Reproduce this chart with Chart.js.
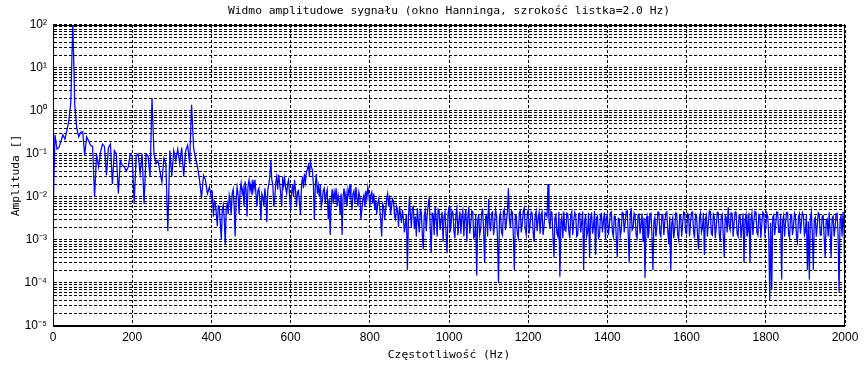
<!DOCTYPE html>
<html>
<head>
<meta charset="utf-8">
<title>Widmo amplitudowe</title>
<script src="https://cdn.jsdelivr.net/npm/chart.js@4/dist/chart.umd.min.js"></script>
<style>
  html, body { margin: 0; padding: 0; background: #fff; }
  #wrap { width: 866px; height: 367px; }
</style>
</head>
<body>
<div id="wrap"><canvas id="spectrum" width="866" height="367"></canvas></div>
<script>
const TITLE = "Widmo amplitudowe sygnału (okno Hanninga, szrokość listka=2.0 Hz)";
const X_LABEL = "Częstotliwość (Hz)";
const Y_LABEL = "Amplituda []";

const X_TICKS = [0, 200, 400, 600, 800, 1000, 1200, 1400, 1600, 1800, 2000];
const Y_DECADES = [-5, -4, -3, -2, -1, 0, 1, 2];

// 0 .. 395 Hz, one value every 5 Hz, one row per 100 Hz
const ampLowRows = [
  [3e-3, 0.28, 0.13, 0.14, 0.2, 0.28, 0.22, 0.35, 0.6, 1.6, 120, 1.4, 0.4, 0.25, 0.32, 0.33, 0.095, 0.25, 0.2, 0.16],
  [0.15, 0.01, 0.1, 0.05, 0.11, 0.17, 0.15, 0.032, 0.14, 0.17, 0.02, 0.12, 0.1, 0.012, 0.07, 0.055, 0.05, 0.04, 0.05, 0.1],
  [0.09, 0.007, 0.09, 0.1, 0.035, 0.1, 0.007, 0.1, 0.09, 0.03, 2.0, 0.1, 0.06, 0.07, 0.04, 0.022, 0.08, 0.06, 0.0016, 0.12],
  [0.03, 0.12, 0.07, 0.13, 0.06, 0.14, 0.03, 0.12, 0.16, 0.06, 1.4, 0.14, 0.08, 0.05, 0.025, 0.0095, 0.032, 0.025, 0.012, 0.017]
];

// 400 .. 897.5 Hz, one value every 2.5 Hz, one row per 100 Hz
const ampMidRows = [
  [0.0095, 0.012, 0.0035, 0.008, 0.0073, 0.004, 0.0021, 0.0062, 0.006, 0.0025, 0.001, 0.005, 0.0065, 0.003, 0.00077, 0.0055, 0.007, 0.004, 0.011, 0.008,
   0.004, 0.012, 0.015, 0.006, 0.0012, 0.009, 0.017, 0.011, 0.004, 0.014, 0.021, 0.012, 0.016, 0.006, 0.023, 0.015, 0.0035, 0.018, 0.025, 0.014],
  [0.02, 0.011, 0.025, 0.015, 0.025, 0.012, 0.006, 0.014, 0.016, 0.008, 0.003, 0.012, 0.01, 0.006, 0.016, 0.009, 0.0026, 0.015, 0.02, 0.03,
   0.07, 0.025, 0.02, 0.006, 0.009, 0.022, 0.03, 0.015, 0.033, 0.02, 0.012, 0.006, 0.03, 0.018, 0.027, 0.016, 0.012, 0.02, 0.025, 0.01],
  [0.005, 0.012, 0.02, 0.01, 0.025, 0.014, 0.006, 0.013, 0.014, 0.007, 0.004, 0.018, 0.03, 0.016, 0.035, 0.022, 0.038, 0.045, 0.055, 0.03,
   0.065, 0.05, 0.042, 0.02, 0.003, 0.02, 0.034, 0.012, 0.018, 0.01, 0.02, 0.006, 0.008, 0.014, 0.016, 0.007, 0.012, 0.015, 0.003, 0.009],
  [0.0013, 0.008, 0.015, 0.007, 0.013, 0.009, 0.016, 0.006, 0.011, 0.008, 0.004, 0.012, 0.0013, 0.01, 0.016, 0.008, 0.012, 0.006, 0.015, 0.011,
   0.02, 0.009, 0.005, 0.012, 0.014, 0.007, 0.017, 0.01, 0.006, 0.013, 0.01, 0.003, 0.005, 0.009, 0.011, 0.006, 0.014, 0.009, 0.017, 0.012],
  [0.006, 0.011, 0.013, 0.007, 0.012, 0.005, 0.0085, 0.004, 0.007, 0.009, 0.0055, 0.003, 0.0012, 0.007, 0.006, 0.003, 0.005, 0.009, 0.012, 0.006,
   0.011, 0.004, 0.006, 0.009, 0.008, 0.0035, 0.003, 0.006, 0.005, 0.002, 0.006, 0.004, 0.0025, 0.005, 0.003, 0.0015, 0.0025, 0.004, 0.0002, 0.003]
];

// 900 .. 2000 Hz noise floor, one value every 2.5 Hz, one row per 100 Hz
const ampHighRows = [
  [0.01, 0.004, 0.002, 0.0055, 0.006, 0.0018, 0.0035, 0.0012, 0.0055, 0.0028, 0.0015, 0.005, 0.0045, 0.0014, 0.0006, 0.0038, 0.005, 0.0016, 0.004, 0.0065,
   0.01, 0.002, 0.0005, 0.0042, 0.004, 0.0013, 0.006, 0.0032, 0.0012, 0.0052, 0.0048, 0.0017, 0.003, 0.0045, 0.0009, 0.0036, 0.0045, 0.0015, 0.0005, 0.004],
  [0.006, 0.0015, 0.0022, 0.0048, 0.0042, 0.0016, 0.0011, 0.004, 0.0055, 0.0013, 0.0028, 0.0046, 0.0014, 0.0035, 0.0048, 0.0012, 0.0035, 0.0052, 0.0009, 0.0033,
   0.006, 0.0014, 0.0025, 0.0047, 0.0045, 0.0011, 0.0012, 0.0039, 0.00015, 0.0028, 0.004, 0.0013, 0.0018, 0.0044, 0.005, 0.0016, 0.0003, 0.0035, 0.0038, 0.0012],
  [0.009, 0.0025, 0.0016, 0.0042, 0.0045, 0.0013, 0.0022, 0.005, 0.0038, 0.0011, 0.0001, 0.0034, 0.0042, 0.0015, 0.0013, 0.0046, 0.0052, 0.0017, 0.0026, 0.0045,
   0.016, 0.003, 0.0019, 0.0048, 0.0044, 0.0012, 0.0002, 0.0038, 0.0036, 0.0014, 0.0011, 0.0043, 0.0048, 0.0015, 0.0024, 0.0047, 0.0055, 0.0018, 0.0013, 0.004],
  [0.005, 0.0014, 0.0025, 0.0045, 0.0042, 0.0015, 0.0009, 0.0037, 0.0047, 0.0016, 0.0032, 0.0044, 0.0014, 0.0038, 0.0045, 0.0013, 0.0021, 0.0043, 0.004, 0.0035,
   0.02, 0.0028, 0.0018, 0.0046, 0.0043, 0.0012, 0.0004, 0.0033, 0.0038, 0.0014, 0.0012, 0.0045, 0.00014, 0.0026, 0.0035, 0.0011, 0.0046, 0.0017, 0.0016, 0.0042],
  [0.004, 0.0016, 0.0011, 0.0038, 0.0045, 0.0013, 0.0027, 0.0044, 0.0038, 0.0012, 0.0013, 0.0041, 0.0042, 0.0015, 0.0025, 0.0046, 0.0002, 0.0027, 0.0039, 0.0012,
   0.0015, 0.0043, 0.0004, 0.0031, 0.0044, 0.0014, 0.0021, 0.0047, 0.00045, 0.0033, 0.0036, 0.0011, 0.0012, 0.0039, 0.0041, 0.0015, 0.0028, 0.0044, 0.001, 0.0034],
  [0.0038, 0.0013, 0.0022, 0.0043, 0.0045, 0.0016, 0.0012, 0.0036, 0.0035, 0.0011, 0.0004, 0.0032, 0.0031, 0.0012, 0.0017, 0.0044, 0.0042, 0.0015, 0.0026, 0.0046,
   0.0048, 0.0014, 0.0003, 0.0035, 0.0055, 0.0017, 0.0019, 0.0042, 0.0037, 0.0013, 0.0011, 0.0038, 0.004, 0.0014, 0.0024, 0.0041, 0.0009, 0.0033, 0.00013, 0.0029],
  [0.0036, 0.0011, 0.0015, 0.0041, 0.0042, 0.0013, 0.0002, 0.0028, 0.0034, 0.0012, 0.0021, 0.0045, 0.0044, 0.0014, 0.0012, 0.0037, 0.0039, 0.0013, 0.0026, 0.0042,
   0.0045, 0.0016, 0.0008, 0.0035, 0.0002, 0.0024, 0.0033, 0.0011, 0.0018, 0.0043, 0.0041, 0.0013, 0.001, 0.0038, 0.0037, 0.0012, 0.0024, 0.0045, 0.0043, 0.0015],
  [0.0014, 0.0041, 0.0039, 0.0012, 0.0027, 0.0044, 0.0045, 0.0016, 0.0011, 0.0039, 0.0036, 0.0013, 0.0006, 0.0034, 0.0042, 0.0015, 0.0019, 0.0043, 0.00045, 0.0031,
   0.0038, 0.0012, 0.0025, 0.0047, 0.0046, 0.0014, 0.0013, 0.004, 0.0035, 0.0011, 0.0021, 0.0044, 0.0043, 0.0014, 0.0009, 0.0036, 0.004, 0.0013, 0.0004, 0.0037],
  [0.0034, 0.0015, 0.0058, 0.0021, 0.0017, 0.0043, 0.0041, 0.0012, 0.0026, 0.0045, 0.0044, 0.0014, 0.0012, 0.0038, 0.0037, 0.0011, 0.0021, 0.0042, 0.0003, 0.0029,
   0.0039, 0.0012, 0.0016, 0.0043, 0.0003, 0.0031, 0.0042, 0.0013, 0.0028, 0.0046, 0.0045, 0.0015, 0.0013, 0.0039, 0.0036, 0.0011, 0.0024, 0.0044, 0.004, 0.0014],
  [0.0019, 0.0042, 0.0035, 0.0012, 0.00004, 0.0025, 0.00007, 0.0034, 0.0038, 0.0013, 0.0023, 0.0045, 0.0044, 0.0015, 0.0015, 0.0039, 0.00012, 0.0028, 0.0037, 0.0012,
   0.0026, 0.0044, 0.0043, 0.0014, 0.0011, 0.0038, 0.0039, 0.0013, 0.0021, 0.0042, 0.0036, 0.0012, 0.0009, 0.0035, 0.0041, 0.0014, 0.0027, 0.0043, 0.0038, 0.0013],
  [0.0016, 0.0038, 0.0002, 0.0027, 0.00012, 0.0033, 0.0045, 0.0014, 0.0002, 0.0031, 0.0034, 0.0012, 0.0022, 0.0043, 0.004, 0.0013, 0.0013, 0.0036, 0.0037, 0.0011,
   0.0004, 0.0029, 0.0031, 0.0012, 0.0044, 0.0015, 0.0004, 0.0032, 0.0036, 0.0012, 0.0019, 0.0041, 0.0042, 0.0014, 0.00006, 0.0027, 0.0038, 0.0012, 0.0045, 0.0016,
   0.00007]
];

// each row covers 100 Hz from its start frequency
function rowsToPoints(rows, startHz, stepHz){
  const pts = [];
  rows.forEach((row, r) => {
    row.forEach((a, k) => pts.push({ x: startHz + r * 100 + k * stepHz, y: a }));
  });
  return pts;
}
const points = rowsToPoints(ampLowRows, 0, 5)
  .concat(rowsToPoints(ampMidRows, 400, 2.5), rowsToPoints(ampHighRows, 900, 2.5));

// grid lines at 1..9 x 10^k, labels only on the decades
const yTicks = [];
Y_DECADES.forEach((e, i) => {
  if (i === Y_DECADES.length - 1) { yTicks.push(Math.pow(10, e)); return; }
  for (let m = 1; m <= 9; m++) yTicks.push(m * Math.pow(10, e));
});

const SUP = { "-": "\u207B", "0": "\u2070", "1": "\u00B9", "2": "\u00B2", "3": "\u00B3", "4": "\u2074", "5": "\u2075", "6": "\u2076", "7": "\u2077", "8": "\u2078", "9": "\u2079" };
function decadeLabel(v){
  const e = Math.log10(v);
  if (Math.abs(e - Math.round(e)) > 1e-6) return "";
  return "10" + String(Math.round(e)).split("").map(c => SUP[c]).join("");
}

const MONO = "'DejaVu Sans Mono', 'Liberation Mono', monospace";
const SANS = "'Liberation Sans', Arial, sans-serif";

const frameBox = {
  id: "frameBox",
  afterDraw(chart){
    const a = chart.chartArea, c = chart.ctx;
    c.save();
    c.strokeStyle = "#000";
    c.lineWidth = 1;
    c.strokeRect(Math.round(a.left) + 0.5, Math.round(a.top) + 0.5,
                 Math.round(a.right - a.left) - 1, Math.round(a.bottom - a.top));
    c.restore();
  }
};

new Chart(document.getElementById("spectrum").getContext("2d"), {
  type: "line",
  data: {
    datasets: [{
      data: points,
      borderColor: "#0000ff",
      borderWidth: 1.25,
      pointRadius: 0,
      tension: 0,
      fill: false
    }]
  },
  options: {
    responsive: false,
    animation: false,
    devicePixelRatio: 1,
    layout: { padding: { left: 0, right: 21, top: 0, bottom: 0 } },
    plugins: {
      legend: { display: false },
      tooltip: { enabled: false },
      title: {
        display: true,
        fullSize: false,
        text: TITLE,
        color: "#000",
        font: { family: MONO, size: 11.3, weight: "normal" },
        padding: { top: 4, bottom: 7.4 }
      }
    },
    scales: {
      x: {
        type: "linear",
        min: 0,
        max: 2000,
        afterBuildTicks: s => { s.ticks = X_TICKS.map(v => ({ value: v })); },
        afterFit: s => { s.height = 41; },
        ticks: { autoSkip: false, maxRotation: 0, padding: 4, color: "#000", font: { family: SANS, size: 12 }, callback: v => String(v) },
        grid: { color: "#000", lineWidth: 1, drawTicks: false },
        border: { display: true, color: "#000", dash: [3, 2] },
        title: { display: true, text: X_LABEL, color: "#000", font: { family: MONO, size: 11.3 }, padding: { top: 0, bottom: 5 } }
      },
      y: {
        type: "logarithmic",
        min: 1e-5,
        max: 100,
        afterBuildTicks: s => { s.ticks = yTicks.map(v => ({ value: v })); },
        afterFit: s => { s.width = 53; },
        ticks: { autoSkip: false, padding: 6, color: "#000", font: { family: SANS, size: 12 }, callback: v => decadeLabel(v) },
        grid: { color: "#000", lineWidth: 1, drawTicks: false },
        border: { display: true, color: "#000", dash: [3, 2] },
        title: { display: true, text: Y_LABEL, color: "#000", font: { family: MONO, size: 11.3 }, padding: { top: 9, bottom: 0 } }
      }
    }
  },
  plugins: [frameBox]
});
</script>
</body>
</html>
